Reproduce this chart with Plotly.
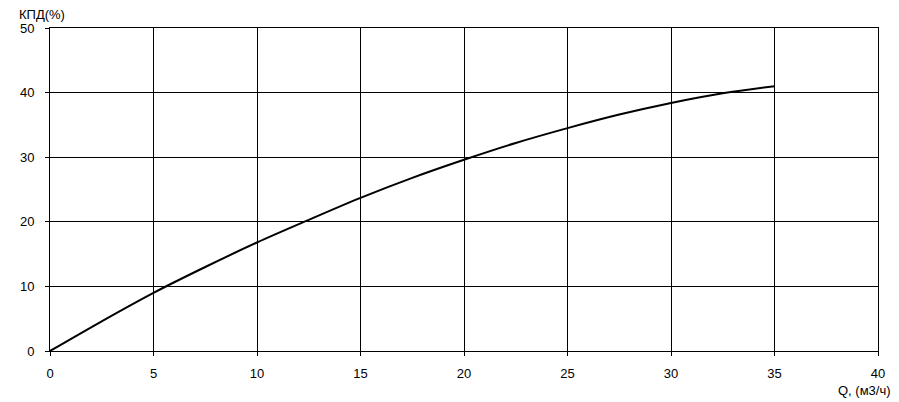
import plotly.graph_objects as go

q = [0, 2.5, 5, 7.5, 10, 12.5, 15, 17.5, 20, 22.5, 25, 27.5, 30, 32.5, 35]
eff = [0, 4.6, 9.0, 13.0, 16.8, 20.3, 23.7, 26.8, 29.6, 32.2, 34.5, 36.6, 38.4, 39.9, 41.0]
x_ticks = [0, 5, 10, 15, 20, 25, 30, 35, 40]
y_ticks = [0, 10, 20, 30, 40, 50]

fig = go.Figure()
fig.add_trace(go.Scatter(x=q, y=eff, mode="lines",
                         line=dict(color="black", width=2, shape="spline"),
                         showlegend=False, hoverinfo="skip"))

font = dict(family="Liberation Sans, Arial, sans-serif", size=13, color="black")
fig.update_layout(
    width=891, height=394,
    margin=dict(l=42, r=21, t=20, b=51),
    paper_bgcolor="white", plot_bgcolor="white",
    font=font,
    xaxis=dict(range=[0, 40], tickvals=x_ticks, showgrid=True, gridcolor="black", gridwidth=1,
               showline=True, linecolor="black", linewidth=1, mirror=True,
               ticks="outside", ticklen=4, tickcolor="black", ticklabelstandoff=6,
               zeroline=False, fixedrange=True),
    yaxis=dict(range=[0, 50], tickvals=y_ticks, showgrid=True, gridcolor="black", gridwidth=1,
               showline=True, linecolor="black", linewidth=1, mirror=True,
               ticks="outside", ticklen=4, tickcolor="black", ticklabelstandoff=8,
               zeroline=False, fixedrange=True),
    annotations=[
        dict(text="КПД(%)", xref="paper", yref="paper", x=-0.0399, y=1.0, yshift=14,
             xanchor="left", yanchor="middle", showarrow=False, font=font),
        dict(text="Q, (м3/ч)", xref="paper", yref="paper", x=1.0, y=0, yshift=-39, xshift=15,
             xanchor="right", yanchor="middle", showarrow=False, font=font),
    ],
)
fig.write_html("out.html")
